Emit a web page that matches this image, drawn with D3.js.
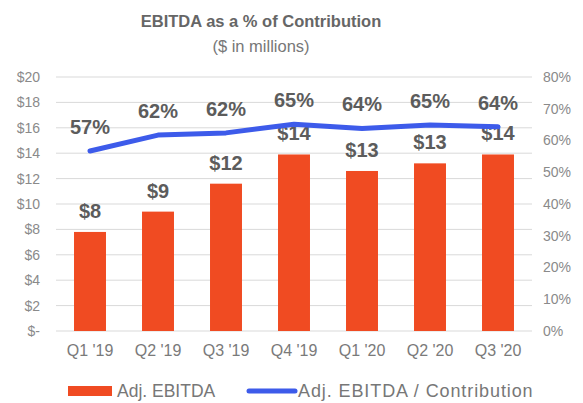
<!DOCTYPE html>
<html><head><meta charset="utf-8">
<script src="https://cdn.jsdelivr.net/npm/d3@7"></script>
<style>body{margin:0;background:#fff}svg{display:block}</style>
</head><body>
<svg id="c" width="583" height="403"></svg>
<script>
const categories = ["Q1 '19","Q2 '19","Q3 '19","Q4 '19","Q1 '20","Q2 '20","Q3 '20"];
const ebitda = [7.8, 9.4, 11.6, 13.9, 12.6, 13.2, 13.9];
const ebitdaLabels = ["$8","$9","$12","$14","$13","$13","$14"];
const pctValues = [56.7, 61.7, 62.4, 65.1, 63.8, 64.9, 64.3];
const pctLabels = ["57%","62%","62%","65%","64%","65%","64%"];
const leftTicks = [0,2,4,6,8,10,12,14,16,18,20];
const rightTicks = [0,10,20,30,40,50,60,70,80];

const svg = d3.select("#c");
const m = {l:56, r:532, t:77, b:331};
const x = d3.scaleBand().domain(categories).range([m.l, m.r]).paddingInner(0.53).paddingOuter(0.265);
const yL = d3.scaleLinear().domain([0,20]).range([m.b, m.t]);
const yR = d3.scaleLinear().domain([0,80]).range([m.b, m.t]);
const font = "'Liberation Sans', Arial, sans-serif";

// title
svg.append("text").attr("x",261).attr("y",27).attr("text-anchor","middle")
  .attr("font-family",font).attr("font-weight","bold").attr("font-size",16.5).attr("fill","#666")
  .text("EBITDA as a % of Contribution");
svg.append("text").attr("x",261).attr("y",52).attr("text-anchor","middle")
  .attr("font-family",font).attr("font-size",16.5).attr("fill","#777")
  .text("($ in millions)");

// gridlines
svg.append("g").selectAll("line").data(leftTicks).join("line")
  .attr("x1",m.l).attr("x2",m.r).attr("y1",d=>yL(d)).attr("y2",d=>yL(d))
  .attr("stroke","#d9d9d9").attr("stroke-width",1);

// left axis
const la = svg.append("g").attr("transform",`translate(${m.l},0)`)
  .call(d3.axisLeft(yL).tickValues(leftTicks).tickSize(0).tickPadding(16)
    .tickFormat(d=> d===0 ? "$-" : "$"+d));
la.select(".domain").remove();
la.selectAll("text").attr("font-family",font).attr("font-size",14).attr("fill","#8a8a8a");

// right axis
const ra = svg.append("g").attr("transform",`translate(${m.r},0)`)
  .call(d3.axisRight(yR).tickValues(rightTicks).tickSize(0).tickPadding(11)
    .tickFormat(d=> d+"%"));
ra.select(".domain").remove();
ra.selectAll("text").attr("font-family",font).attr("font-size",14).attr("fill","#8a8a8a");

// x axis
const xa = svg.append("g").attr("transform",`translate(0,${m.b})`)
  .call(d3.axisBottom(x).tickSize(0).tickPadding(14));
xa.select(".domain").remove();
xa.selectAll("text").attr("font-family",font).attr("font-size",16).attr("fill","#7a7a7a");

// bars
svg.append("g").selectAll("rect").data(ebitda).join("rect")
  .attr("x",(d,i)=>x(categories[i])).attr("width",x.bandwidth())
  .attr("y",d=>yL(d)).attr("height",d=>yL(0)-yL(d))
  .attr("fill","#F04B22");

// bar labels
svg.append("g").selectAll("text").data(ebitda).join("text")
  .attr("x",(d,i)=>x(categories[i])+x.bandwidth()/2).attr("y",d=>yL(d)-14)
  .attr("text-anchor","middle").attr("font-family",font).attr("font-weight","bold")
  .attr("font-size",20).attr("fill","#5c5c5c").text((d,i)=>ebitdaLabels[i]);

// line
const line = d3.line().x((d,i)=>x(categories[i])+x.bandwidth()/2).y(d=>yR(d));
svg.append("path").datum(pctValues).attr("d",line).attr("fill","none")
  .attr("stroke","#3D5BEA").attr("stroke-width",5).attr("stroke-linecap","round").attr("stroke-linejoin","round");

// line labels
svg.append("g").selectAll("text").data(pctValues).join("text")
  .attr("x",(d,i)=>x(categories[i])+x.bandwidth()/2).attr("y",d=>yR(d)-17)
  .attr("text-anchor","middle").attr("font-family",font).attr("font-weight","bold")
  .attr("font-size",20).attr("fill","#5c5c5c").text((d,i)=>pctLabels[i]);

// legend
const lg = svg.append("g");
lg.append("rect").attr("x",68).attr("y",386).attr("width",44).attr("height",10).attr("fill","#F04B22");
lg.append("text").attr("x",117).attr("y",397).attr("font-family",font).attr("font-size",17.5).attr("fill","#777").text("Adj. EBITDA");
lg.append("line").attr("x1",249).attr("x2",295).attr("y1",391).attr("y2",391)
  .attr("stroke","#3D5BEA").attr("stroke-width",5).attr("stroke-linecap","round");
lg.append("text").attr("x",298).attr("y",397).attr("font-family",font).attr("font-size",18)
  .attr("letter-spacing",0.9).attr("fill","#777").text("Adj. EBITDA / Contribution");
</script>
</body></html>
